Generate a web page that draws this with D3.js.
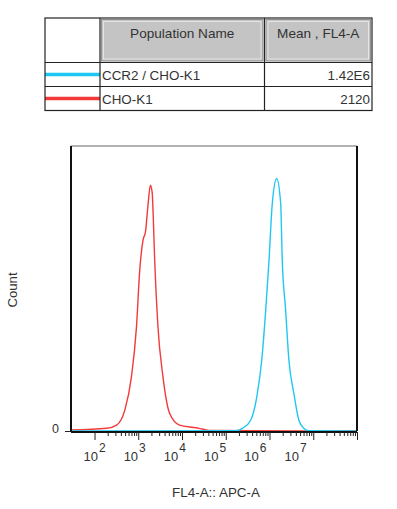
<!DOCTYPE html>
<html>
<head>
<meta charset="utf-8">
<script src="https://cdn.jsdelivr.net/npm/d3@7"></script>
<style>
  body { margin: 0; background: #fff; }
  svg text { font-family: "Liberation Sans", Arial, sans-serif; fill: #333; }
</style>
</head>
<body>
<svg id="chart" width="397" height="509"></svg>
<script>
// legend table
const populations = ['CCR2 / CHO-K1', 'CHO-K1'];
const means = ['1.42E6', '2120'];
const colors = ['#1ec8f2', '#f23a3a'];
const headers = ['Population Name', 'Mean , FL4-A'];

// histograms, FL4-A intensity vs count
const choX = [29, 189, 320, 493, 700, 910, 1081, 1285, 1459, 1671, 1892, 2080, 2193, 2371, 2818, 3664, 5200, 8770, 21040, 29240, 46800, 1e8];
const choY = [0.4, 1.1, 2.4, 8.5, 22.1, 42.4, 65.5, 77.7, 81, 92, 100, 97, 88, 69.6, 42.4, 22.1, 7.2, 2.4, 1.3, 0.8, 0.2, 0];
const ccr2X = [29, 164400, 241000, 374000, 528000, 665000, 820000, 975000, 1159000, 1459000, 1799000, 1956000, 2335000, 2773000, 3606000, 4677000, 6081000, 7900000, 1e8];
const ccr2Y = [0, 0.1, 1.1, 4.5, 15.3, 28.9, 49.3, 69.6, 92.7, 102.8, 92.7, 69.6, 49.3, 28.9, 15.3, 4.5, 1.1, 0.1, 0];

const decades = [2, 3, 4, 5, 6, 7];
const yTicks = [0];

const svg = d3.select('#chart');

// ---- table ----
const t = { left: 45, right: 372, top: 18, head: 62.5, row: 24 };
const col1 = 100, col2 = 264.5;
const tg = svg.append('g');

const cells = [[col1 + 1.5, col2 - 1.5], [col2 + 1.5, t.right - 1.5]];
cells.forEach(function(c, i) {
  tg.append('rect')
    .attr('x', c[0]).attr('y', t.top + 1.5)
    .attr('width', c[1] - c[0]).attr('height', t.head - t.top - 3)
    .attr('fill', '#c4c4c4').attr('stroke', '#8f8f8f').attr('stroke-width', 1);
  tg.append('rect')
    .attr('x', c[0] + 2).attr('y', t.top + 3.5)
    .attr('width', c[1] - c[0] - 4).attr('height', t.head - t.top - 7)
    .attr('fill', 'none').attr('stroke', '#e4e4e4').attr('stroke-width', 1);
  tg.append('text')
    .attr('x', (c[0] + c[1]) / 2).attr('y', 37.5)
    .attr('text-anchor', 'middle').attr('font-size', 13.6)
    .text(headers[i]);
});

populations.forEach(function(p, i) {
  const yTop = t.head + i * t.row;
  const yMid = yTop + t.row / 2;
  tg.append('line')
    .attr('x1', t.left).attr('x2', col1)
    .attr('y1', yMid).attr('y2', yMid)
    .attr('stroke', colors[i]).attr('stroke-width', 3.5);
  tg.append('text')
    .attr('x', col1 + 2).attr('y', yMid + 5)
    .attr('font-size', 13.4).text(p);
  tg.append('text')
    .attr('x', t.right - 2).attr('y', yMid + 5)
    .attr('text-anchor', 'end').attr('font-size', 13.4).text(means[i]);
});

const tBottom = t.head + populations.length * t.row;
tg.append('rect')
  .attr('x', t.left).attr('y', t.top)
  .attr('width', t.right - t.left).attr('height', tBottom - t.top)
  .attr('fill', 'none').attr('stroke', '#222').attr('stroke-width', 1.2);
[col1, col2].forEach(function(cx) {
  tg.append('line').attr('x1', cx).attr('x2', cx)
    .attr('y1', t.top).attr('y2', tBottom)
    .attr('stroke', '#222').attr('stroke-width', 1.2);
});
[t.head, t.head + t.row].forEach(function(ry) {
  tg.append('line').attr('x1', t.left).attr('x2', t.right)
    .attr('y1', ry).attr('y2', ry)
    .attr('stroke', '#222').attr('stroke-width', 1.2);
});

// ---- histogram ----
const plot = { left: 71, right: 357, top: 146, bottom: 431 };

const x = d3.scaleLog().domain([29, 1e8]).range([plot.left, plot.right]);
const y = d3.scaleLinear().domain([0, 116]).range([plot.bottom, plot.top]);

const g = svg.append('g');

const line = d3.line()
  .curve(d3.curveMonotoneX)
  .x(function(d) { return x(d[0]); })
  .y(function(d) { return y(d[1]); });

g.append('path')
  .datum(d3.zip(choX, choY))
  .attr('d', line)
  .attr('fill', 'none').attr('stroke', colors[1]).attr('stroke-width', 1.4);

g.append('path')
  .datum(d3.zip(ccr2X, ccr2Y))
  .attr('d', line)
  .attr('fill', 'none').attr('stroke', colors[0]).attr('stroke-width', 1.4);

// frame
g.append('line').attr('x1', plot.left).attr('x2', plot.right)
  .attr('y1', plot.top).attr('y2', plot.top)
  .attr('stroke', '#999').attr('stroke-width', 1.5);
g.append('line').attr('x1', plot.left).attr('x2', plot.left)
  .attr('y1', plot.top).attr('y2', plot.bottom)
  .attr('stroke', '#111').attr('stroke-width', 2);
g.append('line').attr('x1', plot.right).attr('x2', plot.right)
  .attr('y1', plot.top).attr('y2', plot.bottom)
  .attr('stroke', '#111').attr('stroke-width', 2);

// x axis: log ticks from 10^2
const allTicks = x.ticks().filter(function(v) { return v >= 100; });
const xAxis = g.append('g')
  .attr('transform', 'translate(0,' + (plot.bottom + 1) + ')')
  .call(d3.axisBottom(x)
    .tickValues(allTicks)
    .tickSize(4)
    .tickSizeOuter(0)
    .tickFormat(''));
xAxis.select('.domain').attr('stroke', '#111').attr('stroke-width', 2)
  .attr('d', 'M' + plot.left + ',0H' + plot.right);
xAxis.selectAll('.tick line')
  .attr('stroke', '#222')
  .attr('y2', function(d) {
    const e = Math.log10(d);
    return Math.abs(e - Math.round(e)) < 1e-6 ? 8 : 4;
  });

// decade labels (spread a little narrower than the ticks, like the source)
const labelX = d3.scaleLinear().domain([2, 7]).range([x(1e2), x(1e2) + 201]);
const lab = g.append('g');
decades.forEach(function(k) {
  const tx = lab.append('text')
    .attr('x', labelX(k)).attr('y', 461)
    .attr('text-anchor', 'middle').attr('font-size', 13);
  tx.append('tspan').text('10');
  tx.append('tspan').attr('dy', -9.5).attr('dx', 1).attr('font-size', 12).text(k);
});

// y axis
const yAxis = g.append('g')
  .attr('transform', 'translate(' + plot.left + ',0)')
  .call(d3.axisLeft(y).tickValues(yTicks).tickSize(6).tickPadding(6).tickSizeOuter(0));
yAxis.select('.domain').remove();
yAxis.selectAll('.tick text')
  .attr('font-family', '"Liberation Sans", Arial, sans-serif')
  .attr('font-size', 12.5).attr('fill', '#333').attr('dy', '0.1em');
yAxis.selectAll('.tick line').attr('stroke', '#222');

// axis titles
svg.append('text')
  .attr('transform', 'translate(17,290) rotate(-90)')
  .attr('text-anchor', 'middle').attr('font-size', 13.2)
  .text('Count');
svg.append('text')
  .attr('x', 216).attr('y', 497)
  .attr('text-anchor', 'middle').attr('font-size', 13.4)
  .text('FL4-A:: APC-A');
</script>
</body>
</html>
